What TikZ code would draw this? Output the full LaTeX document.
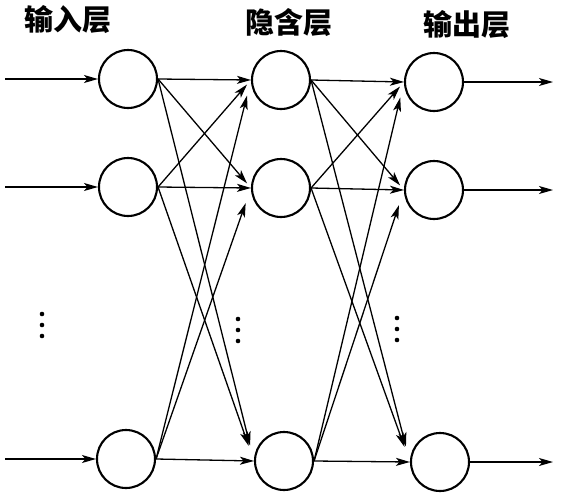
\documentclass[tikz,border=0pt]{standalone}
\usepackage{fontspec}
\newfontfamily\cjk{Noto Sans CJK SC}
\usetikzlibrary{arrows.meta}

\begin{document}
\begin{tikzpicture}[x=1pt, y=-1pt,
    neuron/.style={draw, circle, line width=2.1pt, minimum size=58pt, inner sep=0pt},
    link/.style={-{Stealth[length=14pt, width=8pt, inset=3.5pt]}, line width=1.3pt},
    nearlink/.style={link, shorten >=6pt},
    farlink/.style={link, shorten >=16pt},
    layertitle/.style={font={\cjk\bfseries\fontsize{29pt}{29pt}\selectfont}}]
    \useasboundingbox (0,0) rectangle (566,496);

    % layer titles
    \node[layertitle] (tin)  at (68,20)  {输入层};
    \node[layertitle] (thid) at (289,23) {隐含层};
    \node[layertitle] (tout) at (467,25) {输出层};

    % neurons
    \node[neuron] (i1) at (128,79)  {};
    \node[neuron] (i2) at (128,187) {};
    \node[neuron] (i3) at (126,459) {};
    \node[neuron] (h1) at (281,80)  {};
    \node[neuron] (h2) at (281,188) {};
    \node[neuron] (h3) at (284,461) {};
    \node[neuron] (o1) at (434,82)  {};
    \node[neuron] (o2) at (434,190) {};
    \node[neuron] (o3) at (440,462) {};

    % inputs and outputs
    \coordinate (x1) at (5,79);
    \coordinate (x2) at (5,187);
    \coordinate (x3) at (5,459);
    \coordinate (y1) at (553,82);
    \coordinate (y2) at (553,190);
    \coordinate (y3) at (553,462);
    \foreach \r in {1,2,3} {
        \draw[link] (x\r) -- (i\r.west);
        \draw[link] (o\r.east) -- (y\r);
    }

    % full connections between layers
    \foreach \a/\b/\s in {1/1/link, 1/2/nearlink, 1/3/farlink,
                          2/1/nearlink, 2/2/link, 2/3/farlink,
                          3/1/farlink, 3/2/farlink, 3/3/link} {
        \draw[\s] (i\a.east) -- (h\b.west);
        \draw[\s] (h\a.east) -- (o\b.west);
    }

    % dots for omitted neurons
    \foreach \y in {314,325,336} \fill (42,\y) circle (2.3pt);
    \foreach \y in {319,330,341} \fill (238,\y) circle (2.3pt);
    \foreach \y in {318,329,340} \fill (397,\y) circle (2.3pt);
\end{tikzpicture}
\end{document}
